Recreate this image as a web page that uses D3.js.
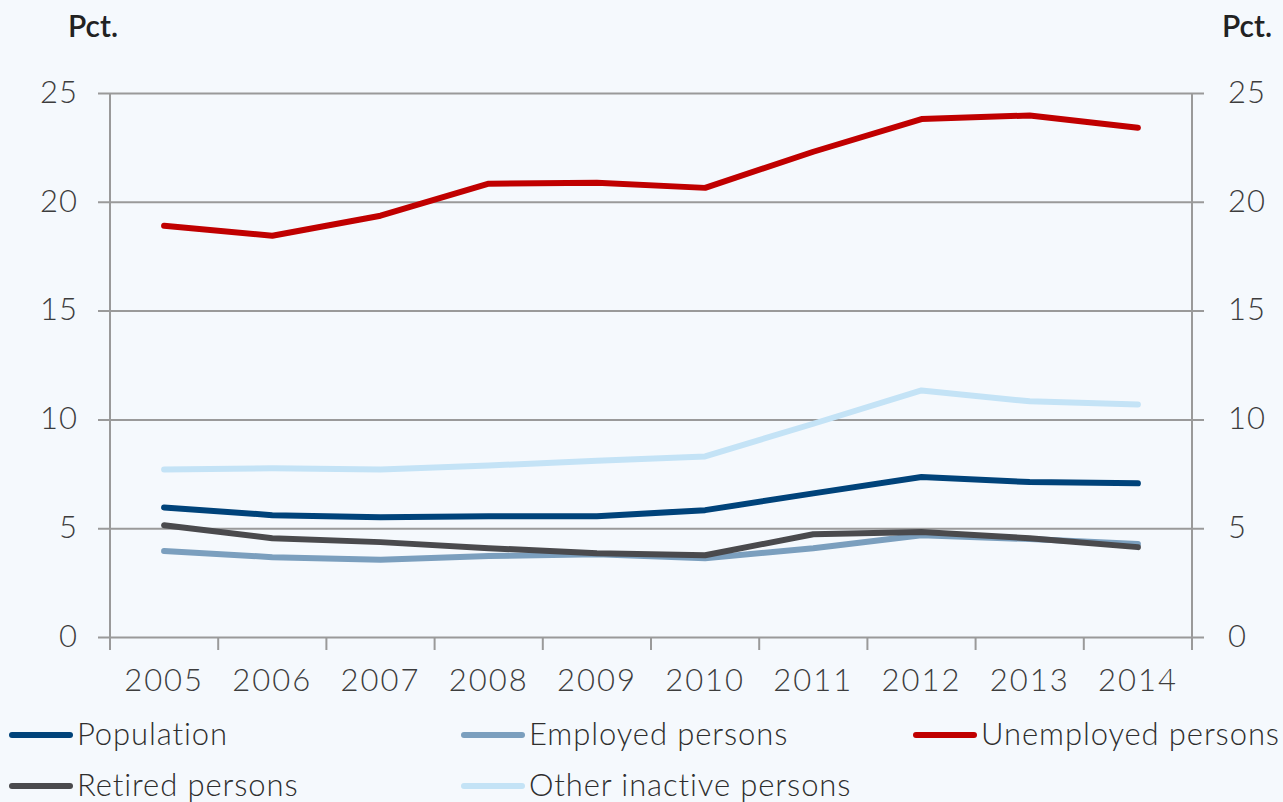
<!DOCTYPE html>
<html>
<head>
<meta charset="utf-8">
<script src="https://cdn.jsdelivr.net/npm/d3@7"></script>
<style>
  body { margin: 0; background: #f5f9fd; }
  svg { display: block; }
  text { font-family: Lato, "Open Sans", sans-serif; }
</style>
</head>
<body>
<svg id="chart" width="1283" height="802"></svg>
<script>
// data
var years = ["2005", "2006", "2007", "2008", "2009", "2010", "2011", "2012", "2013", "2014"];
var population = [5.95, 5.6, 5.5, 5.55, 5.55, 5.83, 6.6, 7.35, 7.12, 7.06];
var employed = [3.95, 3.67, 3.55, 3.72, 3.8, 3.62, 4.08, 4.68, 4.5, 4.27];
var unemployed = [18.9, 18.44, 19.36, 20.83, 20.88, 20.64, 22.3, 23.8, 23.97, 23.4];
var retired = [5.14, 4.54, 4.36, 4.08, 3.85, 3.76, 4.72, 4.82, 4.54, 4.13];
var otherInactive = [7.7, 7.75, 7.7, 7.88, 8.1, 8.3, 9.8, 11.33, 10.83, 10.69];
var yTicks = [0, 5, 10, 15, 20, 25];

var series = [
  {name: "Population", values: population, color: "#00437a"},
  {name: "Employed persons", values: employed, color: "#7b9fbe"},
  {name: "Unemployed persons", values: unemployed, color: "#c00000"},
  {name: "Retired persons", values: retired, color: "#4a4a4d"},
  {name: "Other inactive persons", values: otherInactive, color: "#c4e3f6"}
];

var svg = d3.select("#chart");
var plotL = 110, plotR = 1192, plotT = 93, plotB = 637;
var axisColor = "#9a9a9a", textColor = "#3d3d3d";

var x = d3.scaleBand().domain(years).range([plotL, plotR]);
var y = d3.scaleLinear().domain([0, 25]).range([plotB, plotT]);

// gridlines incl. the little ticks out both sides
var grid = svg.append("g")
  .attr("transform", "translate(" + (plotL - 12) + ",0)")
  .call(d3.axisLeft(y).tickValues(yTicks).tickSize(-(plotR - plotL + 24)).tickFormat(""));
grid.select(".domain").remove();
grid.selectAll("line").attr("stroke", axisColor).attr("stroke-width", 2);

// vertical axis lines
[plotL, plotR].forEach(function(xx) {
  svg.append("line")
    .attr("x1", xx).attr("x2", xx)
    .attr("y1", plotT).attr("y2", plotB + 13)
    .attr("stroke", axisColor).attr("stroke-width", 2);
});

// ticks between years
svg.append("g").selectAll("line")
  .data(years.slice(1))
  .join("line")
  .attr("x1", function(d) { return x(d); })
  .attr("x2", function(d) { return x(d); })
  .attr("y1", plotB).attr("y2", plotB + 13)
  .attr("stroke", axisColor).attr("stroke-width", 2);

// y labels left + right
var yl = svg.append("g")
  .attr("transform", "translate(" + plotL + ",0)")
  .call(d3.axisLeft(y).tickValues(yTicks).tickSize(0).tickPadding(32));
var yr = svg.append("g")
  .attr("transform", "translate(" + plotR + ",0)")
  .call(d3.axisRight(y).tickValues(yTicks).tickSize(0).tickPadding(36));
[yl, yr].forEach(function(g) {
  g.select(".domain").remove();
  g.selectAll("text")
    .attr("font-family", "Lato, sans-serif")
    .attr("font-size", 31)
    .attr("font-weight", 300)
    .attr("fill", textColor)
    .attr("dy", "0.3em")
    .style("letter-spacing", "1px");
});

// x labels
var xa = svg.append("g")
  .attr("transform", "translate(0," + plotB + ")")
  .call(d3.axisBottom(x).tickSize(0).tickPadding(32));
xa.select(".domain").remove();
xa.selectAll("text")
  .attr("font-family", "Lato, sans-serif")
  .attr("font-size", 31)
  .attr("font-weight", 300)
  .attr("fill", textColor)
  .style("letter-spacing", "2px");

// Pct. labels
svg.append("text").attr("x", 68).attr("y", 37)
  .attr("font-size", 30).attr("font-weight", 600).attr("fill", "#222")
  .text("Pct.");
svg.append("text").attr("x", 1222).attr("y", 37)
  .attr("font-size", 30).attr("font-weight", 600).attr("fill", "#222")
  .text("Pct.");

// lines
var line = d3.line()
  .x(function(d, i) { return x(years[i]) + x.bandwidth() / 2; })
  .y(function(d) { return y(d); });

svg.append("g").selectAll("path")
  .data(series)
  .join("path")
  .attr("d", function(d) { return line(d.values); })
  .attr("fill", "none")
  .attr("stroke", function(d) { return d.color; })
  .attr("stroke-width", 6)
  .attr("stroke-linecap", "round")
  .attr("stroke-linejoin", "round");

// legend
var legendPos = [
  {x: 12, y: 735}, {x: 464, y: 735}, {x: 916, y: 735},
  {x: 12, y: 786}, {x: 464, y: 786}
];
var leg = svg.append("g").selectAll("g")
  .data(series)
  .join("g")
  .attr("transform", function(d, i) { return "translate(" + legendPos[i].x + "," + legendPos[i].y + ")"; });
leg.append("line")
  .attr("x1", 0).attr("x2", 58)
  .attr("stroke", function(d) { return d.color; })
  .attr("stroke-width", 6)
  .attr("stroke-linecap", "round");
leg.append("text")
  .attr("x", 65).attr("y", 10)
  .attr("font-size", 31)
  .attr("font-weight", 300)
  .attr("fill", "#2e2e2e")
  .style("letter-spacing", "0.9px")
  .text(function(d) { return d.name; });
</script>
</body>
</html>
